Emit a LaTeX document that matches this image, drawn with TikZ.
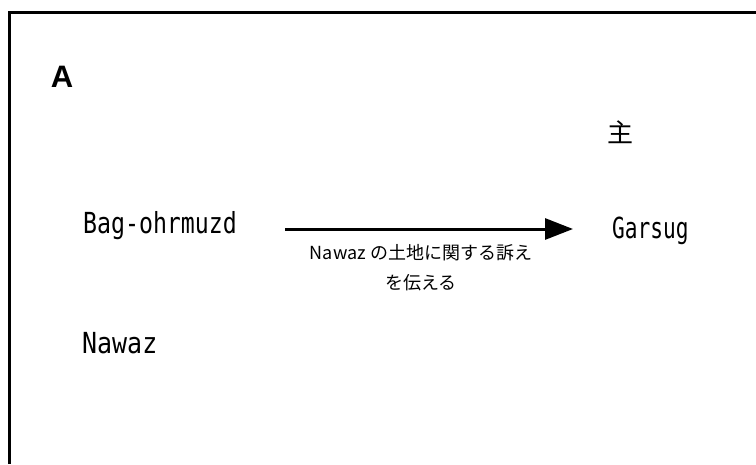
\documentclass[tikz,border=0pt]{standalone}
\usepackage{fontspec}
\setmainfont{Liberation Sans}
\newfontfamily\cjk{Noto Sans CJK JP}
\newfontfamily\namefont[FakeStretch=0.80]{DejaVu Sans Mono}
\newfontfamily\namefontn[FakeStretch=0.73]{DejaVu Sans Mono}
\newfontfamily\namefontw[FakeStretch=0.86]{DejaVu Sans Mono}
\usetikzlibrary{arrows.meta}
\begin{document}
\begin{tikzpicture}[x=1pt,y=-1pt,
  namestyle/.style={font=\namefont\fontsize{29}{32}\selectfont, anchor=west, inner sep=0pt},
  labelstyle/.style={font=\cjk\fontsize{18}{21}\selectfont, inner sep=0pt},
  arrowstyle/.style={line width=3pt, -{Triangle[length=28pt,width=21pt]}}]
\useasboundingbox (0,0) rectangle (756,464);
\fill[white] (0,0) rectangle (756,464);
\draw[line width=3pt] (9,464) -- (9,12) -- (756,12);
\node[font=\bfseries\fontsize{31}{34}\selectfont, inner sep=0pt] (A) at (62,77) {A};
\node[font=\cjk\fontsize{26}{29}\selectfont, inner sep=0pt] (lord) at (620,132) {主};
\node[namestyle] (bag) at (83,226) {Bag-ohrmuzd};
\node[namestyle, font=\namefontn\fontsize{29}{32}\selectfont] (gar) at (612,231) {Garsug};
\node[namestyle, font=\namefontw\fontsize{29}{32}\selectfont] (naw) at (82,343) {Nawaz};
\coordinate (s) at (285,229);
\coordinate (e) at (573,229);
\draw[arrowstyle] (s) -- (e);
\node[labelstyle] (l1) at (421,253) {Nawaz の土地に関する訴え};
\node[labelstyle] (l2) at (421,283) {を伝える};
\end{tikzpicture}
\end{document}
